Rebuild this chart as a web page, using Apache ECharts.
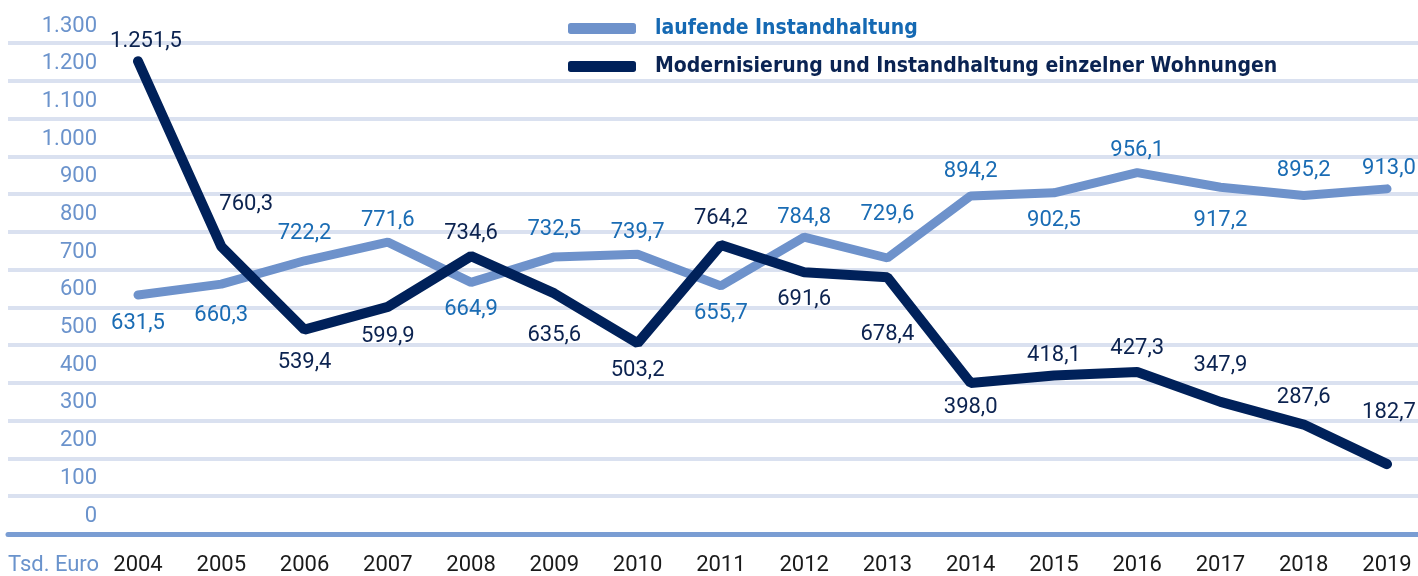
<!DOCTYPE html>
<html lang="de">
<head>
    <meta charset="UTF-8">
    <title>Instandhaltung</title>
    <script type="text/javascript" src="https://cdn.jsdelivr.net/npm/echarts@6/dist/echarts.min.js"></script>
    <style>
        html, body {
            width: 100%;
            height: 100%;
            margin: 0;
            padding: 0;
            background: #fff;
        }
        #main {
            width: 1418px;
            height: 576px;
        }
    </style>
</head>
<body>
    <div id="main"></div>
    <script>
        // Daten
        var years = ['2004', '2005', '2006', '2007', '2008', '2009', '2010', '2011',
                     '2012', '2013', '2014', '2015', '2016', '2017', '2018', '2019'];
        var laufende = [631.5, 660.3, 722.2, 771.6, 664.9, 732.5, 739.7, 655.7,
                        784.8, 729.6, 894.2, 902.5, 956.1, 917.2, 895.2, 913.0];
        var modernisierung = [1251.5, 760.3, 539.4, 599.9, 734.6, 635.6, 503.2, 764.2,
                              691.6, 678.4, 398.0, 418.1, 427.3, 347.9, 287.6, 182.7];
        var yMin = 0, yMax = 1300, yStep = 100;

        // Lage der Beschriftungen (Abstand zum Punkt)
        var laufendeOffset = [[0, 29], [0, 31], [0, -27], [0, -22], [0, 27], [0, -27], [0, -22], [0, 28],
                              [0, -20], [0, -43], [0, -24], [0, 28], [0, -22], [0, 33], [0, -25], [2, -20]];
        var modernOffset = [[8, -20], [25, -42], [0, 33], [0, 30], [0, -23], [0, 42], [0, 27], [0, -26],
                            [0, 27], [0, 57], [0, 25], [0, -20], [0, -23], [0, -36], [0, -27], [2, -52]];

        var FONT = 'Roboto, "Noto Sans", sans-serif';
        var LIGHT = '#6e92cb', DARK = '#00215a';

        function deNum(v, digits) {
            var s = v.toFixed(digits).split('.');
            var int = s[0].replace(/\B(?=(\d{3})+(?!\d))/g, '.');
            return s.length > 1 ? int + ',' + s[1] : int;
        }

        function withLabels(values, offsets) {
            return values.map(function (v, i) {
                return { value: v, label: { offset: offsets[i] } };
            });
        }

        var myChart = echarts.init(document.getElementById('main'));

        var option = {
            animation: false,
            backgroundColor: '#fff',
            textStyle: { fontFamily: FONT },
            legend: {
                orient: 'vertical',
                left: 563,
                top: 13,
                itemWidth: 68,
                itemHeight: 11,
                itemGap: 17,
                icon: 'roundRect',
                selectedMode: false,
                data: [
                    { name: 'laufende Instandhaltung', textStyle: { color: '#1569b3' } },
                    { name: 'Modernisierung und Instandhaltung einzelner Wohnungen', textStyle: { color: '#0a2352' } }
                ],
                textStyle: {
                    fontFamily: '"Liberation Sans Narrow", "DejaVu Sans Condensed", Roboto, sans-serif',
                    fontSize: 21,
                    fontWeight: 'bold',
                    padding: [0, 0, 0, 14]
                }
            },
            graphic: [{
                type: 'text',
                left: 8,
                top: 554,
                style: { text: 'Tsd. Euro', fill: '#6a93cc', font: '22px ' + FONT }
            }],
            grid: [
                { left: 8, right: 0, top: 43, bottom: 42 },
                { left: 138, right: 31, top: 43, bottom: 42 }
            ],
            xAxis: [
                {
                    gridIndex: 0, type: 'value', min: 0, max: 1,
                    axisLine: { show: true, onZero: false, lineStyle: { color: '#7a9dd3', width: 5 } },
                    axisTick: { show: false }, axisLabel: { show: false }, splitLine: { show: false }
                },
                {
                    gridIndex: 1, type: 'category', data: years, boundaryGap: false,
                    axisLine: { show: false }, axisTick: { show: false },
                    axisLabel: { color: '#1a1a1a', fontSize: 22, margin: 21, fontFamily: FONT }
                }
            ],
            yAxis: [
                {
                    gridIndex: 0, type: 'value', min: yMin, max: yMax, interval: yStep,
                    axisLine: { show: false }, axisTick: { show: false }, axisLabel: { show: false },
                    splitLine: { lineStyle: { color: '#dae1f0', width: 4 } }
                },
                {
                    gridIndex: 1, type: 'value', min: yMin, max: yMax, interval: yStep,
                    axisLine: { show: false }, axisTick: { show: false }, splitLine: { show: false },
                    axisLabel: {
                        color: '#6b93cc', fontSize: 22, fontFamily: FONT, margin: 41,
                        align: 'right', verticalAlign: 'bottom', lineHeight: 22,
                        padding: [0, 0, 6, 0],
                        formatter: function (v) { return deNum(v, 0); }
                    }
                }
            ],
            series: [
                {
                    name: 'laufende Instandhaltung',
                    type: 'line',
                    xAxisIndex: 1, yAxisIndex: 1,
                    data: withLabels(laufende, laufendeOffset),
                    symbol: 'circle', symbolSize: 2,
                    itemStyle: { color: LIGHT },
                    lineStyle: { color: LIGHT, width: 9, cap: 'round' },
                    label: {
                        show: true, position: 'inside', color: '#1a6cb4', fontSize: 22, fontFamily: FONT,
                        formatter: function (p) { return deNum(p.value, 1); }
                    }
                },
                {
                    name: 'Modernisierung und Instandhaltung einzelner Wohnungen',
                    type: 'line',
                    xAxisIndex: 1, yAxisIndex: 1,
                    data: withLabels(modernisierung, modernOffset),
                    symbol: 'circle', symbolSize: 2,
                    itemStyle: { color: DARK },
                    lineStyle: { color: DARK, width: 10, cap: 'round' },
                    label: {
                        show: true, position: 'inside', color: '#0c2350', fontSize: 22, fontFamily: FONT,
                        formatter: function (p) { return deNum(p.value, 1); }
                    }
                }
            ]
        };
        myChart.setOption(option);

        window.addEventListener('resize', function () {
            myChart.resize();
        });
    </script>
</body>
</html>
